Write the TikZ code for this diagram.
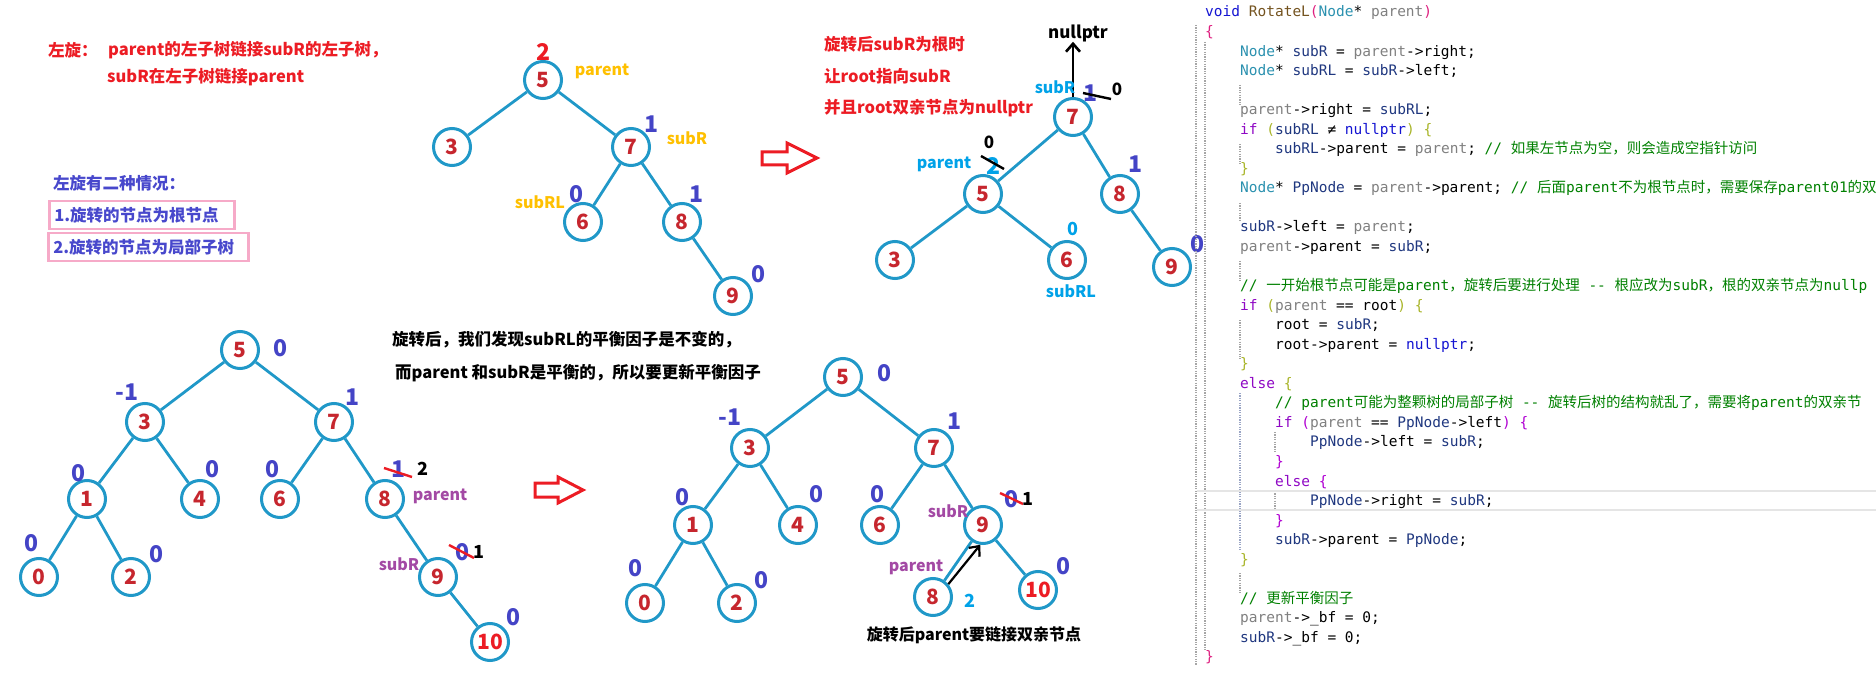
\documentclass[tikz,border=0pt]{standalone}
\usepackage{fontspec}
\usepackage{xcolor}
\usepackage{tikz}
\usetikzlibrary{arrows.meta}
\newfontfamily\cnfont{Noto Sans CJK SC}
\newfontfamily\codefont{DejaVu Sans Mono}
\newfontfamily\cjkcode{Noto Sans CJK SC}
\definecolor{ringblue}{RGB}{32,152,200}
\definecolor{numred}{RGB}{198,38,46}
\definecolor{bfblue}{RGB}{68,68,198}
\definecolor{notered}{RGB}{236,28,36}
\definecolor{tagGold}{RGB}{255,192,0}
\definecolor{tagSky}{RGB}{0,162,232}
\definecolor{tagPurple}{RGB}{163,73,164}
\definecolor{casepink}{RGB}{246,170,200}
\definecolor{caseblue}{RGB}{72,72,204}
\definecolor{cdKw}{RGB}{20,20,210}
\definecolor{cdFn}{RGB}{116,83,31}
\definecolor{cdTy}{RGB}{43,145,175}
\definecolor{cdPa}{RGB}{128,128,128}
\definecolor{cdVar}{RGB}{31,55,127}
\definecolor{cdCtl}{RGB}{143,8,196}
\definecolor{cdCm}{RGB}{0,128,0}
\definecolor{cdBrA}{RGB}{222,32,128}
\definecolor{cdBrB}{RGB}{168,180,40}
\definecolor{cdBrC}{RGB}{176,0,210}
\newcommand{\cdkw}[1]{\textcolor{cdKw}{#1}}
\newcommand{\cdfn}[1]{\textcolor{cdFn}{#1}}
\newcommand{\cdty}[1]{\textcolor{cdTy}{#1}}
\newcommand{\cdpa}[1]{\textcolor{cdPa}{#1}}
\newcommand{\cdvr}[1]{\textcolor{cdVar}{#1}}
\newcommand{\cdct}[1]{\textcolor{cdCtl}{#1}}
\newcommand{\cdcm}[1]{\textcolor{cdCm}{#1}}
\newcommand{\cdba}[1]{\textcolor{cdBrA}{#1}}
\newcommand{\cdbb}[1]{\textcolor{cdBrB}{#1}}
\newcommand{\cdbc}[1]{\textcolor{cdBrC}{#1}}
\newcommand{\cdzh}[1]{{\cjkcode #1}}
\tikzset{
  tnode/.style={circle, draw=ringblue, line width=3pt, minimum size=37pt, inner sep=0pt, text=numred, font=\cnfont\bfseries\fontsize{21}{21}\selectfont},
  link/.style={draw=ringblue, line width=2.8pt},
  bfnum/.style={inner sep=0pt, text=bfblue, font=\cnfont\bfseries\fontsize{23}{23}\selectfont},
  tag/.style={inner sep=0pt, font=\cnfont\bfseries\fontsize{16}{16}\selectfont},
  note/.style={inner sep=0pt, anchor=west, font=\cnfont\bfseries\fontsize{16.5}{16.5}\selectfont},
  casebox/.style={draw=casepink, line width=2.6pt, anchor=west, align=left, inner xsep=5pt, minimum height=28pt, text=caseblue, font=\cnfont\bfseries\fontsize{16.5}{16.5}\selectfont},
  hollow/.style={draw=notered, line width=3pt, line join=miter},
  blkarrow/.style={draw=black, line width=2.6pt, -{Straight Barb[length=8pt,width=14pt]}},
  strike/.style={line width=2.4pt},
  codeline/.style={anchor=base west, inner sep=0pt, font=\codefont\fontsize{14.5}{19.5}\selectfont},
  guide/.style={draw=black!35, line width=1.2pt, dash pattern=on 1.2pt off 1.2pt},
}
\begin{document}
\begin{tikzpicture}[x=1pt,y=-1pt]
\useasboundingbox (0,0) rectangle (1876,676);

% notes on the left
\node[note, text=notered] (rotl) at (48,50) {左旋：};
\node[note, text=notered] (rule1) at (108,50) {parent的左子树链接subR的左子树，};
\node[note, text=notered] (rule2) at (107,77) {subR在左子树链接parent};
\node[note, text=caseblue] (cases) at (53,183) {左旋有二种情况：};
\node[casebox, text width=175pt] (case1) at (48,215) {1.旋转的节点为根节点};
\node[casebox, text width=190pt] (case2) at (47,247) {2.旋转的节点为局部子树};

% tree before rotation
\node[tnode] (a5) at (543,80) {5};
\node[tnode] (a3) at (452,147) {3};
\node[tnode] (a7) at (631,147) {7};
\node[tnode] (a6) at (583,222) {6};
\node[tnode] (a8) at (682,222) {8};
\node[tnode] (a9) at (733,296) {9};
\draw[link] (a5) -- (a3);
\draw[link] (a5) -- (a7);
\draw[link] (a7) -- (a6);
\draw[link] (a7) -- (a8);
\draw[link] (a8) -- (a9);
\node[bfnum, text=notered] (a5bf) at (543,52) {2};
\node[tag, text=tagGold] (a5tag) at (602,71) {parent};
\node[bfnum] (a7bf) at (651,124) {1};
\node[tag, text=tagGold] (a7tag) at (687,138) {subR};
\node[tag, text=tagGold] (a6tag) at (540,202) {subRL};
\node[bfnum] (a6bf) at (576,194) {0};
\node[bfnum] (a8bf) at (696,194) {1};
\node[bfnum] (a9bf) at (758,274) {0};

\draw[hollow] (762,152) -- (787,152) -- (787,143) -- (817,158) -- (787,173) -- (787,165) -- (762,165) -- cycle;

% tree after rotation, subR as root
\node[note, text=notered] (root1) at (824,44) {旋转后subR为根时};
\node[note, text=notered] (root2) at (824,76) {让root指向subR};
\node[note, text=notered] (root3) at (824,108) {并且root双亲节点为nullptr};
\node[tnode] (b7) at (1073,117) {7};
\node[tnode] (b5) at (983,194) {5};
\node[tnode] (b8) at (1120,194) {8};
\node[tnode] (b3) at (895,260) {3};
\node[tnode] (b6) at (1067,260) {6};
\node[tnode] (b9) at (1172,267) {9};
\draw[link] (b7) -- (b5);
\draw[link] (b7) -- (b8);
\draw[link] (b5) -- (b3);
\draw[link] (b5) -- (b6);
\draw[link] (b8) -- (b9);
\node[tag, font=\cnfont\bfseries\fontsize{17}{17}\selectfont] (nullptr) at (1078,33) {nullptr};
\draw[blkarrow] (b7.north) -- (b7.north |- nullptr.south);
\node[tag, text=tagSky] (b7tag) at (1055,87) {subR};
\node[bfnum] (b7bf) at (1090,93) {1};
\draw[strike] (1083,93) -- (1111,99);
\node[tag, font=\cnfont\bfseries\fontsize{17}{17}\selectfont] (b7new) at (1117,89) {0};
\node[tag, text=tagSky] (b5tag) at (944,164) {parent};
\node[bfnum, text=tagSky] (b5bf) at (993,166) {2};
\draw[strike] (981,156) -- (1004,169);
\node[tag, font=\cnfont\bfseries\fontsize{17}{17}\selectfont] (b5new) at (989,142) {0};
\node[bfnum, text=tagSky, font=\cnfont\bfseries\fontsize{18}{18}\selectfont] (b6bf) at (1073,229) {0};
\node[tag, text=tagSky] (b6tag) at (1071,291) {subRL};
\node[bfnum] (b8bf) at (1135,164) {1};
\node[bfnum] (b9bf) at (1197,244) {0};

% subtree case, before
\node[tnode] (c5) at (240,350) {5};
\node[tnode] (c3) at (145,422) {3};
\node[tnode] (c7) at (334,422) {7};
\node[tnode] (c1) at (87,499) {1};
\node[tnode] (c4) at (200,499) {4};
\node[tnode] (c6) at (280,499) {6};
\node[tnode] (c8) at (385,499) {8};
\node[tnode] (c0) at (39,577) {0};
\node[tnode] (c2) at (131,577) {2};
\node[tnode] (c9) at (438,577) {9};
\node[tnode, text=notered] (c10) at (490,642) {10};
\draw[link] (c5) -- (c3);
\draw[link] (c5) -- (c7);
\draw[link] (c3) -- (c1);
\draw[link] (c3) -- (c4);
\draw[link] (c7) -- (c6);
\draw[link] (c7) -- (c8);
\draw[link] (c1) -- (c0);
\draw[link] (c1) -- (c2);
\draw[link] (c8) -- (c9);
\draw[link] (c9) -- (c10);
\node[bfnum] (c5bf) at (280,348) {0};
\node[bfnum] (c3bf) at (127,392) {-1};
\node[bfnum] (c7bf) at (352,397) {1};
\node[bfnum] (c1bf) at (79,473) {0};
\node[bfnum] (c4bf) at (213,469) {0};
\node[bfnum] (c6bf) at (273,469) {0};
\node[bfnum] (c8bf) at (398,469) {1};
\draw[strike, notered] (384,468) -- (412,477);
\node[tag, font=\cnfont\bfseries\fontsize{18}{18}\selectfont] (c8new) at (423,469) {2};
\node[tag, text=tagPurple] (c8tag) at (440,496) {parent};
\node[bfnum] (c0bf) at (32,543) {0};
\node[bfnum] (c2bf) at (157,554) {0};
\node[bfnum] (c9bf) at (462,552) {0};
\draw[strike, notered] (449,545) -- (474,558);
\node[tag, font=\cnfont\bfseries\fontsize{18}{18}\selectfont] (c9new) at (479,552) {1};
\node[tag, text=tagPurple] (c9tag) at (399,564) {subR};
\node[bfnum] (c10bf) at (513,617) {0};

\node[note] (find1) at (392,340) {旋转后，我们发现subRL的平衡因子是不变的，};
\node[note] (find2) at (395,373) {而parent 和subR是平衡的，所以要更新平衡因子};

\draw[hollow] (535,483) -- (558,483) -- (558,477) -- (583,490) -- (558,503) -- (558,497) -- (535,497) -- cycle;

% subtree case, after
\node[tnode] (d5) at (843,377) {5};
\node[tnode] (d3) at (750,448) {3};
\node[tnode] (d7) at (934,448) {7};
\node[tnode] (d1) at (693,525) {1};
\node[tnode] (d4) at (798,525) {4};
\node[tnode] (d6) at (880,525) {6};
\node[tnode] (d9) at (983,525) {9};
\node[tnode] (d0) at (645,603) {0};
\node[tnode] (d2) at (737,603) {2};
\node[tnode] (d8) at (933,597) {8};
\node[tnode, text=notered] (d10) at (1038,590) {10};
\draw[link] (d5) -- (d3);
\draw[link] (d5) -- (d7);
\draw[link] (d3) -- (d1);
\draw[link] (d3) -- (d4);
\draw[link] (d7) -- (d6);
\draw[link] (d7) -- (d9);
\draw[link] (d1) -- (d0);
\draw[link] (d1) -- (d2);
\draw[link] (d9) -- (d8);
\draw[link] (d9) -- (d10);
\draw[blkarrow, line width=2.2pt] (d8.40) -- (d9.262);
\node[bfnum] (d5bf) at (884,373) {0};
\node[bfnum] (d3bf) at (730,417) {-1};
\node[bfnum] (d7bf) at (954,421) {1};
\node[bfnum] (d1bf) at (682,497) {0};
\node[bfnum] (d4bf) at (816,494) {0};
\node[bfnum] (d6bf) at (877,494) {0};
\node[bfnum] (d9bf) at (1011,499) {0};
\draw[strike, notered] (1000,493) -- (1023,504);
\node[tag, font=\cnfont\bfseries\fontsize{18}{18}\selectfont] (d9new) at (1028,499) {1};
\node[tag, text=tagPurple] (d9tag) at (948,511) {subR};
\node[tag, text=tagPurple] (d8tag) at (916,567) {parent};
\node[tag, text=tagSky, font=\cnfont\bfseries\fontsize{18}{18}\selectfont] (d8bf) at (970,601) {2};
\node[bfnum] (d0bf) at (635,568) {0};
\node[bfnum] (d2bf) at (761,580) {0};
\node[bfnum] (d10bf) at (1063,566) {0};
\node[tag] (relink) at (974,635) {旋转后parent要链接双亲节点};

% code of RotateL
\begin{scope}
\clip (1190,0) rectangle (1876,676);
\draw[guide] (1196,25) -- (1196,665);
\draw[guide] (1205,42) -- (1205,650);
\draw[guide] (1240,85) -- (1240,105);
\draw[guide] (1240,144) -- (1240,164);
\draw[guide] (1240,203) -- (1240,222);
\draw[guide] (1240,261) -- (1240,281);
\draw[guide] (1240,320) -- (1240,359);
\draw[guide, draw=cdVar!45] (1240,393) -- (1240,550);
\draw[guide] (1240,573) -- (1240,593);
\draw[guide] (1275,432) -- (1275,452);
\draw[guide] (1275,491) -- (1275,510);
\draw[draw=black!10, line width=2pt] (1197,491) -- (1876,491);
\draw[draw=black!10, line width=2pt] (1197,510) -- (1876,510);
\node[codeline] (ln0) at (1205,17.0) {\cdkw{void} \cdfn{RotateL}\cdba{(}\cdty{Node}* \cdpa{parent}\cdba{)}};
\node[codeline] (ln1) at (1205,36.5) {\cdba{\{}};
\node[codeline] (ln2) at (1240,56.1) {\cdty{Node}* \cdvr{subR} = \cdpa{parent}->right;};
\node[codeline] (ln3) at (1240,75.6) {\cdty{Node}* \cdvr{subRL} = \cdvr{subR}->left;};
\node[codeline] (ln5) at (1240,114.7) {\cdpa{parent}->right = \cdvr{subRL};};
\node[codeline] (ln6) at (1240,134.2) {\cdct{if} \cdbb{(}\cdvr{subRL} ≠ \cdkw{nullptr}\cdbb{)} \cdbb{\{}};
\node[codeline] (ln7) at (1275,153.8) {\cdvr{subRL}->parent = \cdpa{parent}; \cdcm{// \cdzh{如果左节点为空，则会造成空指针访问}}};
\node[codeline] (ln8) at (1240,173.3) {\cdbb{\}}};
\node[codeline] (ln9) at (1240,192.9) {\cdty{Node}* \cdvr{PpNode} = \cdpa{parent}->parent; \cdcm{// \cdzh{后面}parent\cdzh{不为根节点时，需要保存}parent01\cdzh{的双}}};
\node[codeline] (ln11) at (1240,231.9) {\cdvr{subR}->left = \cdpa{parent};};
\node[codeline] (ln12) at (1240,251.5) {\cdpa{parent}->parent = \cdvr{subR};};
\node[codeline] (ln14) at (1240,290.6) {\cdcm{// \cdzh{一开始根节点可能是}parent\cdzh{，旋转后要进行处理} -{}- \cdzh{根应改为}subR\cdzh{，根的双亲节点为}nullp}};
\node[codeline] (ln15) at (1240,310.1) {\cdct{if} \cdbb{(}\cdpa{parent} == root\cdbb{)} \cdbb{\{}};
\node[codeline] (ln16) at (1275,329.6) {root = \cdvr{subR};};
\node[codeline] (ln17) at (1275,349.2) {root->parent = \cdkw{nullptr};};
\node[codeline] (ln18) at (1240,368.7) {\cdbb{\}}};
\node[codeline] (ln19) at (1240,388.3) {\cdct{else} \cdbb{\{}};
\node[codeline] (ln20) at (1275,407.8) {\cdcm{// parent\cdzh{可能为整颗树的局部子树} -{}- \cdzh{旋转后树的结构就乱了，需要将}parent\cdzh{的双亲节}}};
\node[codeline] (ln21) at (1275,427.3) {\cdct{if} \cdbc{(}\cdpa{parent} == \cdvr{PpNode}->left\cdbc{)} \cdbc{\{}};
\node[codeline] (ln22) at (1310,446.9) {\cdvr{PpNode}->left = \cdvr{subR};};
\node[codeline] (ln23) at (1275,466.4) {\cdbc{\}}};
\node[codeline] (ln24) at (1275,486.0) {\cdct{else} \cdbc{\{}};
\node[codeline] (ln25) at (1310,505.5) {\cdvr{PpNode}->right = \cdvr{subR};};
\node[codeline] (ln26) at (1275,525.0) {\cdbc{\}}};
\node[codeline] (ln27) at (1275,544.6) {\cdvr{subR}->parent = \cdvr{PpNode};};
\node[codeline] (ln28) at (1240,564.1) {\cdbb{\}}};
\node[codeline] (ln30) at (1240,603.2) {\cdcm{// \cdzh{更新平衡因子}}};
\node[codeline] (ln31) at (1240,622.7) {\cdpa{parent}->\_bf = 0;};
\node[codeline] (ln32) at (1240,642.3) {\cdvr{subR}->\_bf = 0;};
\node[codeline] (ln33) at (1205,661.8) {\cdba{\}}};
\end{scope}
\end{tikzpicture}
\end{document}
